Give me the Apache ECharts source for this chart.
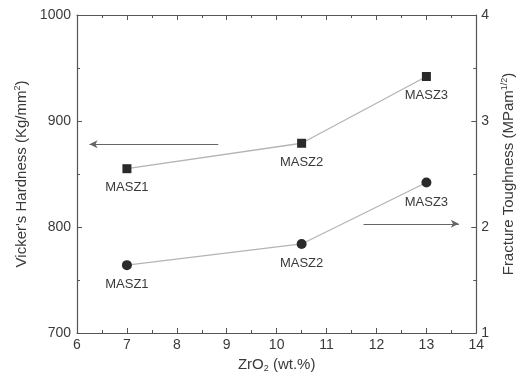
<!DOCTYPE html>
<html>
<head>
<meta charset="utf-8">
<script src="https://cdn.jsdelivr.net/npm/echarts@6/dist/echarts.min.js"></script>
<style>
  html, body { margin: 0; padding: 0; background: #fff; }
</style>
</head>
<body>
<div id="chart" style="width: 524px; height: 383px"></div>
<script>
// ZrO2 content (wt.%)
var zro2 = [7, 10.5, 13];
var sampleNames = ["MASZ1", "MASZ2", "MASZ3"];
// Vicker's hardness (Kg/mm2), left axis
var hardness = [855, 879, 942];
// fracture toughness (MPa m^1/2), right axis
var toughness = [1.64, 1.84, 2.42];

var myChart = echarts.init(document.getElementById("chart"));

var font = "Liberation Sans, Arial, sans-serif";
var textColor = "#3a3a3a";
var axisColor = "#555";

function pairs(xs, ys) {
  var out = [];
  for (var i = 0; i < xs.length; i++) {
    out.push({ value: [xs[i], ys[i]], name: sampleNames[i] });
  }
  return out;
}

var pointLabel = {
  show: true,
  position: "bottom",
  distance: 8,
  formatter: "{b}",
  color: textColor,
  fontSize: 13,
  fontFamily: font,
};

var option = {
  animation: false,
  backgroundColor: "#fff",
  grid: { left: 77, right: 45, top: 15, bottom: 50 },
  xAxis: [
    {
      type: "value",
      min: 6,
      max: 14,
      interval: 1,
      name: "{a|ZrO}{s|2}{a| (wt.%)}",
      nameLocation: "middle",
      nameGap: 22,
      nameTextStyle: {
        rich: {
          a: { fontSize: 15, color: textColor, fontFamily: font },
          s: { fontSize: 9, color: textColor, fontFamily: font, verticalAlign: "bottom", padding: [9, 0, 0, 0] },
        },
      },
      axisLine: { lineStyle: { color: axisColor, width: 1.2 } },
      axisTick: { inside: true, length: 5, lineStyle: { color: axisColor } },
      minorTick: { show: true, splitNumber: 2, length: 3, lineStyle: { color: axisColor } },
      axisLabel: { color: textColor, fontSize: 14, fontFamily: font, margin: 5 },
      splitLine: { show: false },
    },
    {
      type: "value",
      position: "top",
      min: 6,
      max: 14,
      interval: 1,
      axisLine: { lineStyle: { color: axisColor, width: 1.2 } },
      axisTick: { inside: true, length: 5, lineStyle: { color: axisColor } },
      minorTick: { show: true, splitNumber: 2, length: 3, lineStyle: { color: axisColor } },
      axisLabel: { show: false },
      splitLine: { show: false },
    },
  ],
  yAxis: [
    {
      type: "value",
      min: 700,
      max: 1000,
      interval: 100,
      name: "{a|Vicker's Hardness (Kg/mm}{s|2}{a|)}",
      nameLocation: "middle",
      nameGap: 47,
      nameTextStyle: {
        rich: {
          a: { fontSize: 15, color: textColor, fontFamily: font },
          s: { fontSize: 9, color: textColor, fontFamily: font, verticalAlign: "top", padding: [0, 0, 8, 0] },
        },
      },
      axisLine: { show: true, lineStyle: { color: axisColor, width: 1.2 } },
      axisTick: { show: true, inside: true, length: 5, lineStyle: { color: axisColor } },
      minorTick: { show: true, splitNumber: 2, length: 3, lineStyle: { color: axisColor } },
      axisLabel: {
        color: textColor,
        fontSize: 14,
        fontFamily: font,
        margin: 6,
        formatter: function (v) { return String(v); },
      },
      splitLine: { show: false },
    },
    {
      type: "value",
      position: "right",
      min: 1,
      max: 4,
      interval: 1,
      name: "{a|Fracture Toughness (MPam}{s|1/2}{a|)}",
      nameLocation: "middle",
      nameGap: 22,
      nameRotate: 90,
      nameTextStyle: {
        rich: {
          a: { fontSize: 15, color: textColor, fontFamily: font },
          s: { fontSize: 9, color: textColor, fontFamily: font, verticalAlign: "top", padding: [0, 0, 8, 0] },
        },
      },
      axisLine: { show: true, lineStyle: { color: axisColor, width: 1.2 } },
      axisTick: { show: true, inside: true, length: 5, lineStyle: { color: axisColor } },
      minorTick: { show: true, splitNumber: 2, length: 3, lineStyle: { color: axisColor } },
      axisLabel: { color: textColor, fontSize: 14, fontFamily: font, margin: 5 },
      splitLine: { show: false },
    },
  ],
  series: [
    {
      name: "Hardness",
      type: "line",
      xAxisIndex: 0,
      yAxisIndex: 0,
      symbol: "rect",
      symbolSize: 9,
      itemStyle: { color: "#2a2a2a" },
      lineStyle: { color: "#b4b4b4", width: 1.3 },
      label: pointLabel,
      data: pairs(zro2, hardness),
      markLine: {
        silent: true,
        symbol: ["none", "arrow"],
        symbolSize: [6, 8],
        label: { show: false },
        lineStyle: { color: "#666", width: 1, type: "solid" },
        data: [[{ coord: [8.83, 878] }, { coord: [6.25, 878] }]],
      },
    },
    {
      name: "Toughness",
      type: "line",
      xAxisIndex: 0,
      yAxisIndex: 1,
      symbol: "circle",
      symbolSize: 10,
      itemStyle: { color: "#2a2a2a" },
      lineStyle: { color: "#b4b4b4", width: 1.3 },
      label: pointLabel,
      data: pairs(zro2, toughness),
      markLine: {
        silent: true,
        symbol: ["none", "arrow"],
        symbolSize: [6, 8],
        label: { show: false },
        lineStyle: { color: "#666", width: 1, type: "solid" },
        data: [[{ coord: [11.74, 2.03] }, { coord: [13.65, 2.03] }]],
      },
    },
  ],
};

myChart.setOption(option);
</script>
</body>
</html>
